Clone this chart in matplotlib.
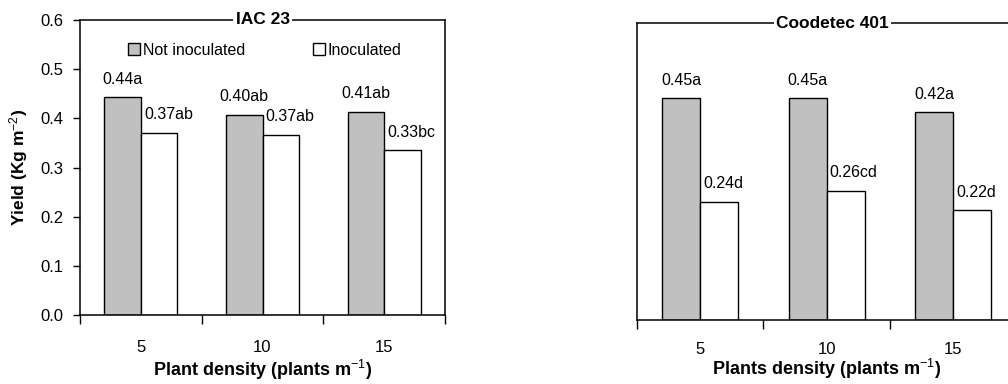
import matplotlib
matplotlib.use("Agg")
import matplotlib.pyplot as plt
import numpy as np

plt.rcParams['font.family'] = ['Liberation Sans', 'DejaVu Sans']
plt.rcParams['mathtext.fontset'] = 'custom'
plt.rcParams['mathtext.rm'] = 'Liberation Sans'
plt.rcParams['mathtext.it'] = 'Liberation Sans:italic'
plt.rcParams['mathtext.bf'] = 'Liberation Sans:bold'

# ---- data ----
densities = ["5", "10", "15"]
series_names = ["Not inoculated", "Inoculated"]

iac_not = [0.443, 0.407, 0.413]
iac_inoc = [0.371, 0.367, 0.335]
iac_not_labels = ["0.44a", "0.40ab", "0.41ab"]
iac_inoc_labels = ["0.37ab", "0.37ab", "0.33bc"]

cd_not = [0.448, 0.448, 0.420]
cd_inoc = [0.239, 0.261, 0.222]
cd_not_labels = ["0.45a", "0.45a", "0.42a"]
cd_inoc_labels = ["0.24d", "0.26cd", "0.22d"]

yticks = [0.0, 0.1, 0.2, 0.3, 0.4, 0.5, 0.6]

GRAY = "#c0c0c0"
W, H = 1008, 384
fig = plt.figure(figsize=(W / 100, H / 100), dpi=100)

ax1 = fig.add_axes([80 / W, (H - 315) / H, 365 / W, 295 / H])
ax2 = fig.add_axes([636.7 / W, (H - 320) / H, 380 / W, 297 / H])


def draw(ax, not_vals, inoc_vals, not_labels, inoc_labels, title, title_x, xlabel,
         show_y, tick_pad, xlabel_pad):
    x = np.arange(len(densities))
    bw = 0.3
    b1 = ax.bar(x - bw / 2, not_vals, bw, color=GRAY, edgecolor="black", linewidth=1.0,
                label=series_names[0], zorder=2)
    b2 = ax.bar(x + bw / 2, inoc_vals, bw, color="white", edgecolor="black", linewidth=1.0,
                label=series_names[1], zorder=2)
    for xi, v, lab in zip(x, not_vals, not_labels):
        ax.annotate(lab, xy=(xi - bw / 2, v), xytext=(0, 13), textcoords="offset points",
                    ha="center", va="center", fontsize=11.5)
    for xi, v, lab in zip(x, inoc_vals, inoc_labels):
        ax.annotate(lab, xy=(xi, v), xytext=(2.2, 13), textcoords="offset points",
                    ha="left", va="center", fontsize=11.5)
    ax.set_xlim(-0.5, len(densities) - 0.5)
    ax.set_ylim(0, 0.6)
    ax.set_xticks(x)
    ax.set_xticklabels(densities, fontsize=12)
    ax.set_xticks(np.arange(len(densities) + 1) - 0.5, minor=True)
    ax.tick_params(axis="x", which="major", length=0, pad=tick_pad)
    ax.tick_params(axis="x", which="minor", length=6.5, width=1.0, direction="out")
    if show_y:
        ax.set_yticks(yticks)
        ax.set_yticklabels([f"{t:.1f}" for t in yticks], fontsize=12)
        ax.tick_params(axis="y", length=5, width=1.0, direction="out", pad=7)
        ax.set_ylabel(r"Yield (Kg m$^{-2}$)", fontsize=12.5, fontweight="bold", labelpad=7)
    else:
        ax.set_yticks([])
    ax.set_xlabel(xlabel, fontsize=13, fontweight="bold", labelpad=xlabel_pad)
    for s in ax.spines.values():
        s.set_linewidth(1.1)
        s.set_color("black")
    ax.text(title_x, 1.0, title, transform=ax.transAxes, ha="center", va="center",
            fontsize=12.5, fontweight="bold", zorder=5,
            bbox=dict(facecolor="white", edgecolor="none", pad=1.5))
    return b1, b2


b1, b2 = draw(ax1, iac_not, iac_inoc, iac_not_labels, iac_inoc_labels, "IAC 23", 0.5,
              r"Plant density (plants m$^{-1}$)", True, 18, 2)
draw(ax2, cd_not, cd_inoc, cd_not_labels, cd_inoc_labels, "Coodetec 401", 0.515,
     r"Plants density (plants m$^{-1}$)", False, 16, 0)

ax1.legend(handles=[b1, b2], labels=series_names, ncol=2, frameon=False,
           loc="center left", bbox_to_anchor=(0.11, 0.898), borderpad=0,
           handlelength=0.75, handleheight=0.75, handletextpad=0.15,
           columnspacing=4.3, fontsize=11.5)

fig.savefig("out.png", dpi=100)
